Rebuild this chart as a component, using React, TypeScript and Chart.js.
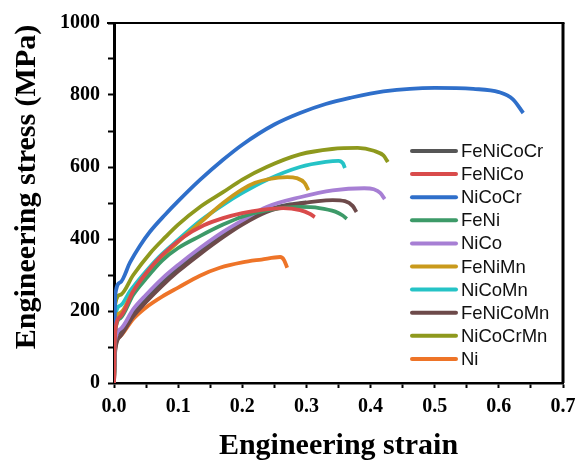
import React, { useEffect, useRef } from "react";
import { Chart, registerables } from "chart.js";

Chart.register(...registerables);

const seriesNames = ["FeNiCoCr", "FeNiCo", "NiCoCr", "FeNi", "NiCo", "FeNiMn", "NiCoMn", "FeNiCoMn", "NiCoCrMn", "Ni"];
const seriesColors = ["#565656", "#d94b4b", "#2f6fca", "#3d9a68", "#a77fd4", "#c99a1c", "#25c3c6", "#6d4a4a", "#8e991d", "#ee7428"];

const feNiCoCrStrain = [0, 0.002, 0.01, 0.03, 0.05, 0.075, 0.1, 0.134, 0.17, 0.2, 0.238, 0.27, 0.3];
const feNiCoCrStress = [0, 105, 140, 195, 235, 280, 318, 366, 412, 446, 480, 495, 502];

const feNiCoStrain = [0, 0.002, 0.01, 0.03, 0.05, 0.075, 0.108, 0.14, 0.17, 0.2, 0.23, 0.264, 0.29, 0.305, 0.313];
const feNiCoStress = [0, 145, 185, 255, 305, 355, 405, 438, 458, 472, 481, 486, 480, 470, 461];

const niCoCrStrain = [0, 0.002, 0.01, 0.025, 0.04, 0.056, 0.08, 0.1, 0.134, 0.17, 0.2, 0.25, 0.29, 0.33, 0.368, 0.42, 0.5, 0.56, 0.6, 0.622, 0.638];
const niCoCrStress = [0, 245, 280, 335, 380, 420, 468, 505, 564, 620, 662, 718, 750, 775, 792, 810, 820, 817, 808, 788, 750];

const feNiStrain = [0, 0.002, 0.01, 0.03, 0.05, 0.075, 0.1, 0.134, 0.17, 0.2, 0.24, 0.29, 0.32, 0.345, 0.356, 0.363];
const feNiStress = [0, 145, 180, 245, 290, 340, 375, 408, 440, 462, 480, 489, 486, 476, 466, 456];

const niCoStrain = [0, 0.002, 0.01, 0.03, 0.05, 0.075, 0.1, 0.134, 0.17, 0.2, 0.238, 0.29, 0.341, 0.39, 0.405, 0.415, 0.422];
const niCoStress = [0, 120, 150, 205, 245, 290, 328, 375, 420, 452, 489, 516, 535, 541, 538, 528, 511];

const feNiMnStrain = [0, 0.002, 0.01, 0.03, 0.05, 0.075, 0.1, 0.134, 0.17, 0.2, 0.22, 0.24, 0.27, 0.285, 0.297, 0.303];
const feNiMnStress = [0, 165, 195, 255, 300, 350, 392, 445, 500, 538, 556, 566, 572, 569, 556, 536];

const niCoMnStrain = [0, 0.002, 0.01, 0.025, 0.045, 0.07, 0.1, 0.134, 0.17, 0.2, 0.238, 0.29, 0.33, 0.35, 0.357, 0.36];
const niCoMnStress = [0, 185, 215, 255, 300, 350, 398, 450, 495, 528, 564, 600, 614, 617, 610, 597];

const feNiCoMnStrain = [0, 0.002, 0.01, 0.03, 0.05, 0.075, 0.1, 0.134, 0.17, 0.2, 0.238, 0.29, 0.341, 0.36, 0.372, 0.378];
const feNiCoMnStress = [0, 90, 130, 185, 225, 270, 310, 358, 405, 440, 475, 498, 508, 505, 492, 475];

const niCoCrMnStrain = [0, 0.002, 0.01, 0.03, 0.056, 0.08, 0.1, 0.134, 0.17, 0.2, 0.238, 0.29, 0.34, 0.38, 0.405, 0.42, 0.427];
const niCoCrMnStress = [0, 220, 245, 300, 360, 405, 440, 489, 530, 565, 600, 635, 650, 653, 645, 632, 614];

const niStrain = [0, 0.002, 0.01, 0.03, 0.05, 0.075, 0.1, 0.134, 0.165, 0.2, 0.23, 0.259, 0.265, 0.27];
const niStress = [0, 95, 130, 178, 210, 240, 265, 298, 320, 335, 343, 350, 342, 320];

const strains = [feNiCoCrStrain, feNiCoStrain, niCoCrStrain, feNiStrain, niCoStrain, feNiMnStrain, niCoMnStrain, feNiCoMnStrain, niCoCrMnStrain, niStrain];
const stresses = [feNiCoCrStress, feNiCoStress, niCoCrStress, feNiStress, niCoStress, feNiMnStress, niCoMnStress, feNiCoMnStress, niCoCrMnStress, niStress];

const xTitle = "Engineering strain";
const yTitle = "Engineering stress (MPa)";

const framePlugin = {
  id: "frameAndLegend",
  afterDraw(chart: any) {
    const { ctx, chartArea } = chart;
    const { left, top, right, bottom } = chartArea;
    ctx.save();
    ctx.strokeStyle = "#000";
    ctx.lineWidth = 2;
    ctx.beginPath();
    ctx.moveTo(left - 7, top);
    ctx.lineTo(right + 1.5, top);
    ctx.stroke();
    ctx.lineWidth = 3;
    ctx.beginPath();
    ctx.moveTo(right, top);
    ctx.lineTo(right, bottom);
    ctx.stroke();

    // legend
    ctx.font = '18.5px "Liberation Sans", Arial, sans-serif';
    ctx.textAlign = "left";
    ctx.textBaseline = "middle";
    const x0 = 412;
    const y0 = 151;
    const dy = 23.1;
    seriesNames.forEach((name, i) => {
      const y = y0 + i * dy;
      ctx.strokeStyle = seriesColors[i];
      ctx.lineWidth = 4;
      ctx.lineCap = "round";
      ctx.beginPath();
      ctx.moveTo(x0, y);
      ctx.lineTo(x0 + 44, y);
      ctx.stroke();
      ctx.fillStyle = "#111";
      ctx.fillText(name, x0 + 49, y + 1);
    });

    // titles
    ctx.fillStyle = "#000";
    ctx.font = 'bold 30px "Liberation Serif", "Times New Roman", serif';
    ctx.textAlign = "center";
    ctx.textBaseline = "middle";
    ctx.fillText(xTitle, (left + right) / 2, 446);
    ctx.translate(27, 187);
    ctx.rotate(-Math.PI / 2);
    ctx.fillText(yTitle, 0, 0);
    ctx.restore();
  },
};

export default function App() {
  const canvasRef = useRef<HTMLCanvasElement>(null);

  useEffect(() => {
    if (!canvasRef.current) return;
    const datasets = seriesNames.map((name, i) => ({
      label: name,
      data: strains[i].map((s, j) => ({ x: s, y: stresses[i][j] })),
      borderColor: seriesColors[i],
      backgroundColor: seriesColors[i],
      borderWidth: 3.8,
      pointRadius: 0,
      cubicInterpolationMode: "monotone" as const,
      fill: false,
      order: i === 0 ? 20 : i,
    }));
    const tickFont = { family: '"Liberation Serif", "Times New Roman", serif', size: 20, weight: "bold" as const };
    const chart = new Chart(canvasRef.current, {
      type: "line",
      data: { datasets },
      plugins: [framePlugin],
      options: {
        animation: false,
        responsive: false,
        maintainAspectRatio: false,
        layout: { padding: { top: 23, right: 13, left: 0, bottom: 0 } },
        plugins: { legend: { display: false }, tooltip: { enabled: false } },
        scales: {
          x: {
            type: "linear",
            min: 0,
            max: 0.7,
            ticks: {
              stepSize: 0.05,
              autoSkip: false,
              maxRotation: 0,
              color: "#000",
              font: tickFont,
              padding: 7,
              callback: (v: any) => (Math.round(Number(v) * 100) % 10 === 0 ? Number(v).toFixed(1) : ""),
            },
            grid: { display: true, drawOnChartArea: false, drawTicks: true, tickLength: 5, tickWidth: 2, color: "#000" },
            border: { display: true, color: "#000", width: 2.5 },
            afterFit: (scale: any) => {
              scale.height = 79;
              scale.paddingLeft = 0;
              scale.paddingRight = 0;
            },
          },
          y: {
            type: "linear",
            min: 0,
            max: 1000,
            ticks: {
              stepSize: 100,
              autoSkip: false,
              color: "#000",
              font: tickFont,
              padding: 8,
              callback: (v: any) => (Number(v) % 200 === 0 ? String(v) : ""),
            },
            grid: { display: true, drawOnChartArea: false, drawTicks: true, tickLength: 6, tickWidth: 2, color: "#000" },
            border: { display: true, color: "#000", width: 3 },
            afterFit: (scale: any) => {
              scale.width = 114;
              scale.paddingTop = 0;
              scale.paddingBottom = 0;
            },
          },
        },
      },
    });
    return () => chart.destroy();
  }, []);

  return (
    <div style={{ position: "fixed", left: 0, top: 0, width: 576, height: 462, background: "#fff" }}>
      <canvas ref={canvasRef} width={576} height={462} style={{ width: 576, height: 462, display: "block" }} />
    </div>
  );
}
